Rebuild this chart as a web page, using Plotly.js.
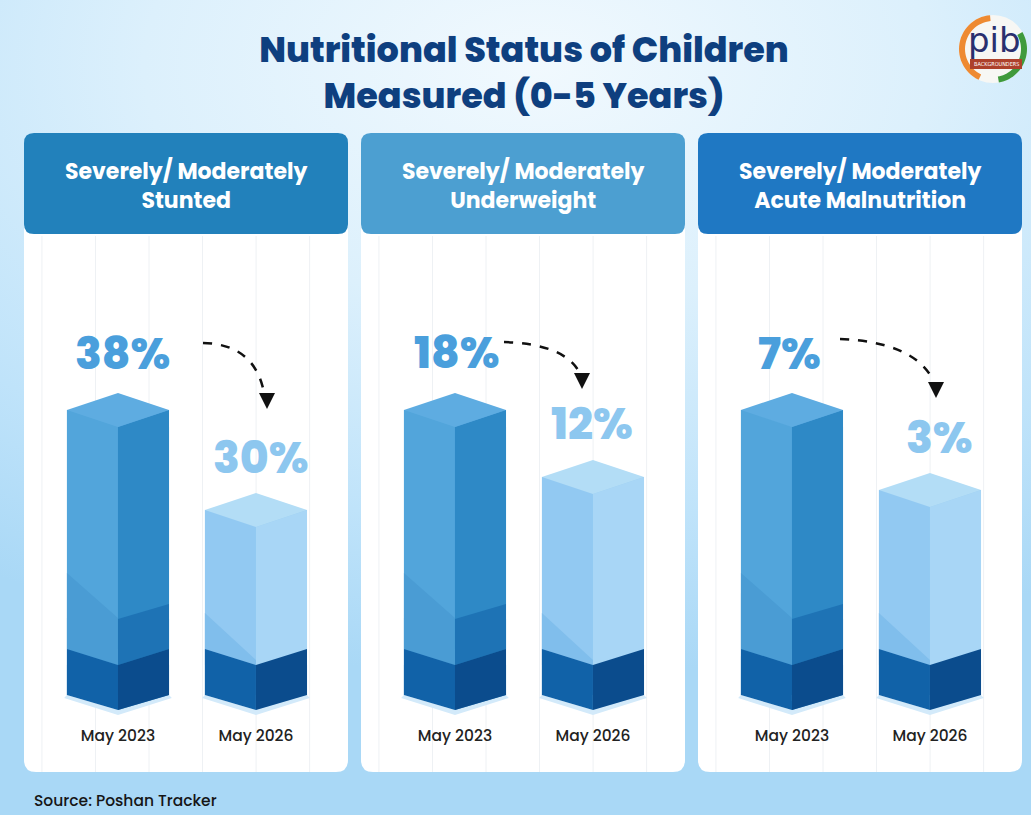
<!DOCTYPE html>
<html>
<head>
<meta charset="utf-8">
<script src="https://cdn.plot.ly/plotly-3.0.1.min.js"></script>
<style>
  html, body { margin: 0; padding: 0; }
  body {
    width: 1031px; height: 815px; overflow: hidden;
    background: radial-gradient(ellipse 95% 75% at 52% 8%, #f1f9fe 0%, #dcf0fc 40%, #bfe3fa 75%, #a9d8f6 100%);
  }
  #chart { width: 1031px; height: 815px; }
</style>
</head>
<body>
<div id="chart"></div>
<script>
// ---------------- DATA ----------------
const chartTitle = "Nutritional Status of Children<br>Measured (0-5 Years)";
const panelTitles = [
  "Severely/ Moderately<br>Stunted",
  "Severely/ Moderately<br>Underweight",
  "Severely/ Moderately<br>Acute Malnutrition"
];
const periods = ["May 2023", "May 2026"];
const may2023 = [38, 18, 7];
const may2026 = [30, 12, 3];
const sourceText = "Source: Poshan Tracker";

// ---------------- LAYOUT CONSTANTS ----------------
const W = 1031, H = 815;
const px = x => x / W;
const py = y => 1 - y / H;
const cardLefts = [24, 361, 698];
const CARD_W = 324;
const PLOT_TOP = 240, PLOT_BOT = 722, BASE_PX = 695;
// per-panel value axis ranges (infographic scale)
const yRanges = [[13.04, 51.6], [-9.94, 33.22], [-8.6, 15.5]];
const xRange = [-0.681, 1.667];
const HW = 0.37; // half bar width (axis units)
const headerColors = ["#2281bb", "#4c9fd1", "#1f78c3"];
const labelShift = [[5, 2, -2], [5, -1, 10]];
const font = "Poppins, Inter, 'Open Sans', sans-serif";

const barStyles = [
  {left: "#52a5db", right: "#2e89c6", cap: "#5eace1", lowLeft: "#4a9cd4", lowRight: "#1e73b5",
   bandL: "#1162a8", bandR: "#0b4c8d", lowLeftPx: [122, 77], lowRightPx: [91, 76], label: "#4a9fdc"},
  {left: "#92c9f2", right: "#a8d6f6", cap: "#b3ddf6", lowLeft: "#80beec", lowRight: null,
   bandL: "#1162a8", bandR: "#0b4c8d", lowLeftPx: [82, 35], lowRightPx: null, label: "#8dc7ef"}
];

const traces = [];
const shapes = [];
const annotations = [];
const layout = {
  width: W, height: H,
  margin: {l: 0, r: 0, t: 0, b: 0},
  paper_bgcolor: "rgba(0,0,0,0)",
  plot_bgcolor: "rgba(0,0,0,0)",
  showlegend: false,
  font: {family: font},
  title: {
    text: chartTitle,
    x: 524 / W, xanchor: "center",
    y: py(62), yanchor: "middle",
    font: {family: font, size: 35, color: "#0e3f7f", weight: 800}
  }
};

function poly(xs, ys, color, xa, ya) {
  return {
    type: "scatter", mode: "lines",
    x: xs.concat([xs[0]]), y: ys.concat([ys[0]]),
    fill: "toself", fillcolor: color,
    line: {width: 0, color: color},
    xaxis: xa, yaxis: ya, hoverinfo: "skip", showlegend: false
  };
}

function rrPath(x0, y0, x1, y1, rt, rb) {
  const P = (x, y) => px(x).toFixed(5) + "," + py(y).toFixed(5);
  return "M" + P(x0 + rt, y0) + " L" + P(x1 - rt, y0) + " Q" + P(x1, y0) + " " + P(x1, y0 + rt) +
         " L" + P(x1, y1 - rb) + " Q" + P(x1, y1) + " " + P(x1 - rb, y1) +
         " L" + P(x0 + rb, y1) + " Q" + P(x0, y1) + " " + P(x0, y1 - rb) +
         " L" + P(x0, y0 + rt) + " Q" + P(x0, y0) + " " + P(x0 + rt, y0) + " Z";
}

const arrows = [
  {start: [203, 343], ctrl: [252, 344], end: [263, 388], tip: [267, 409]},
  {start: [504, 342], ctrl: [562, 344], end: [578, 370], tip: [582, 389]},
  {start: [840, 339], ctrl: [912, 342], end: [932, 378], tip: [936, 398]}
];

for (let i = 0; i < 3; i++) {
  const sfx = i === 0 ? "" : String(i + 1);
  const xa = "x" + sfx, ya = "y" + sfx;
  const L = cardLefts[i];
  const [lo, hi] = yRanges[i];
  const ppu = (PLOT_BOT - PLOT_TOP) / (hi - lo);
  const u = p => p / ppu;
  const base = lo + u(PLOT_BOT - BASE_PX);

  layout["xaxis" + sfx] = {
    domain: [px(L), px(L + CARD_W)], anchor: ya, range: xRange,
    tickvals: [0, 1], ticktext: periods, ticks: "", showgrid: false, zeroline: false,
    showline: false, fixedrange: true, ticklabelstandoff: 2,
    tickfont: {family: font, size: 15.5, color: "#222222", weight: 500}
  };
  layout["yaxis" + sfx] = {
    domain: [py(PLOT_BOT), py(PLOT_TOP)], anchor: xa, range: [lo, hi],
    visible: false, fixedrange: true
  };

  const vals = [may2023[i], may2026[i]];

  // main bar body
  traces.push({
    type: "bar", x: [0, 1], y: vals.map(v => v - base), base: [base, base],
    width: 2 * HW, xaxis: xa, yaxis: ya,
    marker: {color: [barStyles[0].left, barStyles[1].left], line: {width: 0}},
    hoverinfo: "skip", showlegend: false, textposition: "none"
  });

  for (let j = 0; j < 2; j++) {
    const s = barStyles[j];
    const c = j, v = vals[j];
    const l = c - HW, r = c + HW;
    // shadow under bar
    traces.push(poly([l - 0.02, c, r + 0.02, r, c, l],
      [base - u(3), base - u(20), base - u(3), base, base - u(15), base], "#d3eafa", xa, ya));
    // right face
    traces.push(poly([c, r, r, c], [v - u(17), v, base, base - u(15)], s.right, xa, ya));
    // lower shadings
    traces.push(poly([l, c, c, l],
      [base + u(s.lowLeftPx[0]), base + u(s.lowLeftPx[1]), base + u(30), base + u(46)], s.lowLeft, xa, ya));
    if (s.lowRight) {
      traces.push(poly([c, r, r, c],
        [base + u(s.lowRightPx[1]), base + u(s.lowRightPx[0]), base + u(46), base + u(30)], s.lowRight, xa, ya));
    }
    // dark base bands
    traces.push(poly([l, c, c, l], [base + u(46), base + u(30), base - u(15), base], s.bandL, xa, ya));
    traces.push(poly([c, r, r, c], [base + u(30), base + u(46), base, base - u(15)], s.bandR, xa, ya));
    // top cap
    traces.push(poly([l, c, r, c], [v, v + u(17), v, v - u(17)], s.cap, xa, ya));

    // value label
    annotations.push({
      xref: xa, yref: ya, x: c, y: v, xshift: labelShift[j][i], yshift: j === 0 ? 57 : 53,
      text: v + "%", showarrow: false, xanchor: "center", yanchor: "middle",
      font: {family: font, size: 44, color: s.label, weight: 800}
    });
  }

  // cards
  shapes.push({type: "path", xref: "paper", yref: "paper", layer: "below",
    path: rrPath(L, 226, L + CARD_W, 772, 0, 12), fillcolor: "#ffffff", line: {width: 0}});
  for (let k = 0; k < 6; k++) {
    const g = -0.551 + k * 0.388;
    shapes.push({type: "line", xref: xa, yref: "paper", layer: "below",
      x0: g, x1: g, y0: py(236), y1: py(772), line: {color: "#eef1f4", width: 1}});
  }
  shapes.push({type: "path", xref: "paper", yref: "paper", layer: "below",
    path: rrPath(L, 133, L + CARD_W, 234, 10, 10), fillcolor: headerColors[i], line: {width: 0}});
  annotations.push({
    xref: "paper", yref: "paper", x: px(L + CARD_W / 2), y: py(186),
    text: panelTitles[i], showarrow: false, xanchor: "center", yanchor: "middle",
    font: {family: font, size: 22, color: "#ffffff", weight: 700}
  });

  // dashed arrow
  const a = arrows[i];
  const P = (p) => px(p[0]).toFixed(5) + "," + py(p[1]).toFixed(5);
  shapes.push({type: "path", xref: "paper", yref: "paper",
    path: "M" + P(a.start) + " Q" + P(a.ctrl) + " " + P(a.end),
    line: {color: "#111111", width: 2.5, dash: "dash"}});
  shapes.push({type: "path", xref: "paper", yref: "paper",
    path: "M" + P([a.tip[0] - 8, a.tip[1] - 16]) + " L" + P([a.tip[0] + 8, a.tip[1] - 16]) + " L" + P(a.tip) + " Z",
    fillcolor: "#111111", line: {width: 0}});
}

// source
annotations.push({
  xref: "paper", yref: "paper", x: px(32), y: py(800), xanchor: "left", yanchor: "middle",
  text: sourceText, showarrow: false, font: {family: font, size: 15.5, color: "#151515", weight: 500}
});

// logo
function arcPoly(cx, cy, r0, r1, a0, a1) {
  const pts = [];
  const n = 30;
  for (let k = 0; k <= n; k++) {
    const t = (a0 + (a1 - a0) * k / n) * Math.PI / 180;
    pts.push([cx + r1 * Math.cos(t), cy - r1 * Math.sin(t)]);
  }
  for (let k = n; k >= 0; k--) {
    const t = (a0 + (a1 - a0) * k / n) * Math.PI / 180;
    pts.push([cx + r0 * Math.cos(t), cy - r0 * Math.sin(t)]);
  }
  return "M" + pts.map(p => px(p[0]).toFixed(5) + "," + py(p[1]).toFixed(5)).join(" L") + " Z";
}
const LC = [993, 49];
shapes.push({type: "circle", xref: "paper", yref: "paper", x0: px(LC[0] - 34), x1: px(LC[0] + 34),
  y0: py(LC[1] + 34), y1: py(LC[1] - 34), fillcolor: "#f7f7f4", line: {width: 0}});
shapes.push({type: "path", xref: "paper", yref: "paper", path: arcPoly(LC[0], LC[1], 28, 34, 95, 245),
  fillcolor: "#ee8a32", line: {width: 0}});
shapes.push({type: "path", xref: "paper", yref: "paper", path: arcPoly(LC[0], LC[1], 28, 34, -80, 30),
  fillcolor: "#3f9a3c", line: {width: 0}});
shapes.push({type: "rect", xref: "paper", yref: "paper", x0: px(970), x1: px(1022), y0: py(69), y1: py(59),
  fillcolor: "#ad412b", line: {width: 0}});
annotations.push({xref: "paper", yref: "paper", x: px(994), y: py(40), text: "pib", showarrow: false,
  xanchor: "center", yanchor: "middle", font: {family: "'DejaVu Sans', sans-serif", size: 34, color: "#2a2f6e"}});
annotations.push({xref: "paper", yref: "paper", x: px(996), y: py(64), text: "BACKGROUNDERS", showarrow: false,
  xanchor: "center", yanchor: "middle", font: {family: "'DejaVu Sans Condensed', sans-serif", size: 5.5, color: "#ffffff"}});

layout.shapes = shapes;
layout.annotations = annotations;

Plotly.newPlot("chart", traces, layout, {displayModeBar: false, staticPlot: true});
</script>
</body>
</html>
